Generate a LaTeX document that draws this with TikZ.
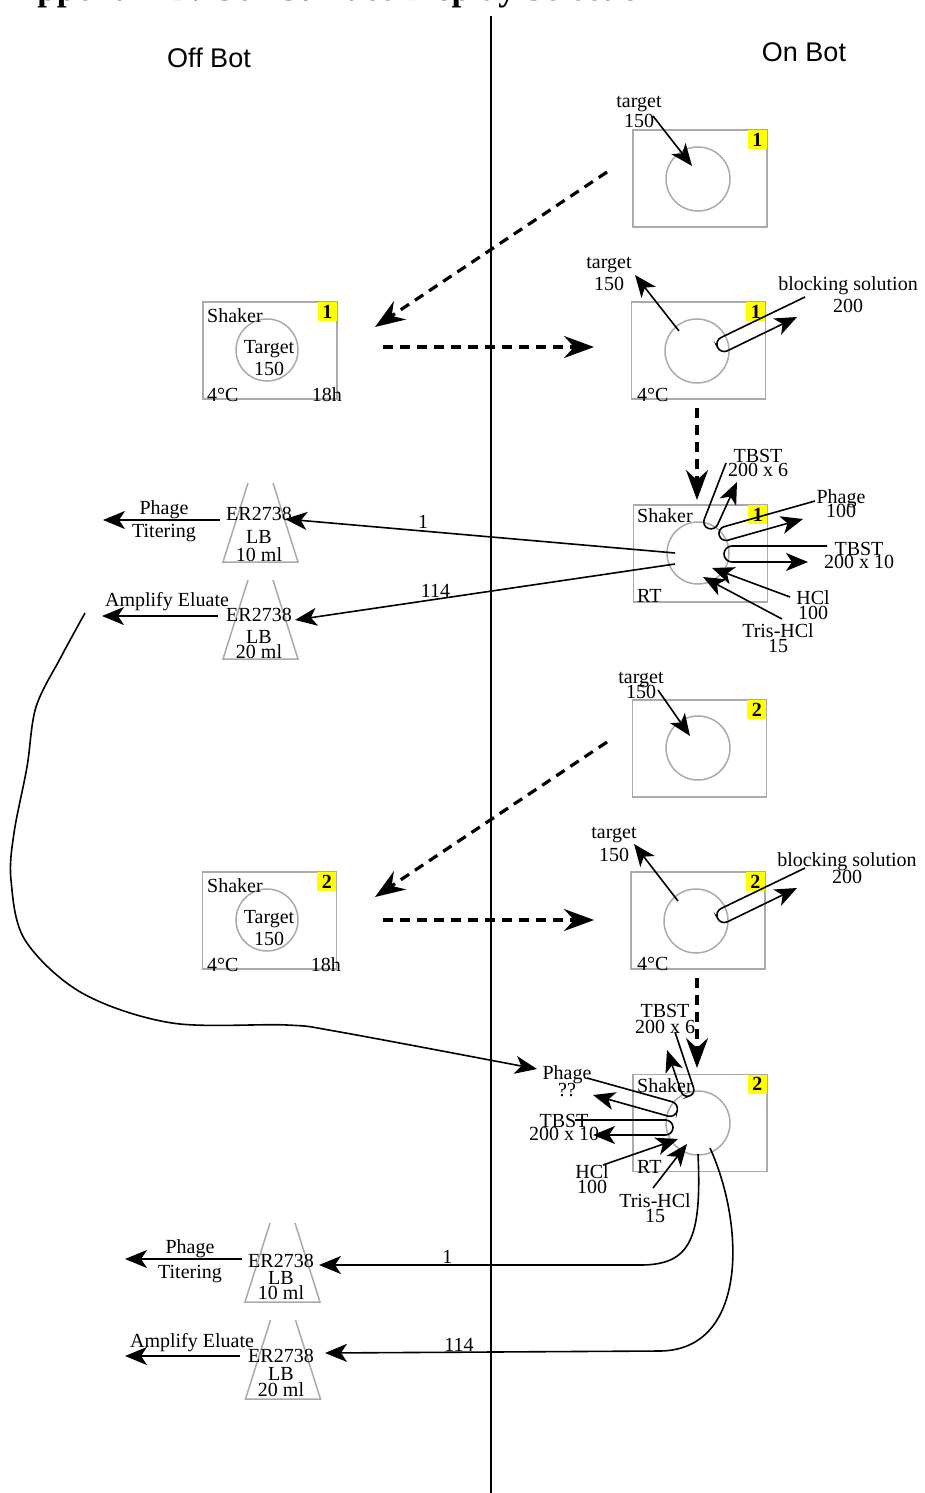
\documentclass[tikz,border=0pt]{standalone}
\usepackage{fontspec}
\setmainfont{Liberation Serif}
\newfontfamily\botfont{Liberation Sans}
\usetikzlibrary{arrows.meta}
\definecolor{plategray}{RGB}{170,170,170}
\definecolor{badgeyellow}{RGB}{255,255,0}
\newcommand\lblfont{\fontsize{20}{20}\selectfont}
\newcommand\flaskline[2]{\draw[flask] (#1-12.5,#2) -- (#1-37.5,#2+79) -- (#1+37.5,#2+79) -- (#1+12.5,#2);}
\begin{document}
\begin{tikzpicture}[x=1pt,y=-1pt,
  lbl/.style={font=\lblfont, align=center, inner sep=0pt},
  botlbl/.style={font=\botfont\fontsize{27}{27}\selectfont, anchor=base, inner sep=0pt},
  plate/.style={draw=plategray, line width=1.5pt, minimum width=134pt, minimum height=97pt, inner sep=0pt},
  well/.style={circle, draw=plategray, line width=1.5pt, minimum size=63pt, inner sep=0pt},
  badge/.style={fill=badgeyellow, minimum size=19pt, inner sep=0pt, font=\lblfont\bfseries, anchor=north east, xshift=-0.8pt, yshift=-0.8pt},
  arr/.style={line width=1.6pt, -{Stealth[length=22pt,width=18pt,inset=6pt]}},
  dasharr/.style={line width=3.2pt, dash pattern=on 10pt off 7pt, -{Stealth[length=30pt,width=22pt,inset=10pt]}},
  flask/.style={draw=plategray, line width=1.5pt}]
\useasboundingbox (0,0) rectangle (924,1493);
\begin{scope}
\clip (0,0) rectangle (924,1493);
\node[anchor=base west, inner sep=0pt, font=\fontsize{35}{35}\selectfont\bfseries] (title) at (12,1) {Appendix B: Cell Surface Display Selection};
\end{scope}

\node[botlbl] (offbot) at (209,68) {Off Bot};
\node[botlbl] (onbot) at (804,62) {On Bot};
\coordinate (divtop) at (491,16);
\coordinate (divbot) at (491,1493);
\draw[line width=1.5pt] (divtop) -- (divbot);

\node[plate] (pA) at (700,178.5) {};
\node[well, minimum size=64pt] (wA) at (698,179) {};
\node[badge] at (pA.north east) {1};
\node[lbl, anchor=base] (tgtA) at (639,128) {target\\150};

\node[plate] (sA) at (270,350.5) {};
\node[well, minimum size=62pt] (swA) at (267,350) {};
\node[badge] at (sA.north east) {1};
\node[lbl, anchor=base west] at (207,322) {Shaker};
\node[lbl, anchor=base] at (269,375) {Target\\[2pt]150};
\node[lbl, anchor=base west] at (207,401) {4°C};
\node[lbl, anchor=base east] at (342,401) {18h};

\node[plate] (pB) at (698.5,350.5) {};
\node[well, minimum size=64pt] (wB) at (697,351) {};
\node[badge] at (pB.north east) {1};
\node[lbl, anchor=base west] at (637,401) {4°C};
\node[lbl, anchor=base] (tgtB) at (609,290) {target\\[2pt]150};
\node[lbl, anchor=base] (blkB) at (848,312) {blocking solution\\[2pt]200};

\node[plate] (pC) at (700.5,553.5) {};
\node[well, minimum size=62pt] (wC) at (698,553) {};
\node[badge] at (pC.north east) {1};
\node[lbl, anchor=base west] at (637,522) {Shaker};
\node[lbl, anchor=base west] at (637,602) {RT};
\node[lbl, anchor=base] (tbA) at (758,476) {TBST\\[-6pt]200 x 6};
\node[lbl, anchor=base] (phA) at (841,517) {Phage\\[-6pt]100};
\node[lbl, anchor=base] (tbB) at (859,568) {TBST\\[-7pt]200 x 10};
\node[lbl, anchor=base] (hcA) at (813,619) {HCl\\[-5pt]100};
\node[lbl, anchor=base] (trA) at (778,652) {Tris-HCl\\[-5pt]15};

\flaskline{260.5}{483}
\node[lbl, anchor=base] (flA) at (259,561) {ER2738\\[3pt]LB\\[-2pt]10 ml};
\flaskline{260.5}{580}
\node[lbl, anchor=base] (flB) at (259,658) {ER2738\\[2pt]LB\\[-5pt]20 ml};
\node[lbl, anchor=base] (phtA) at (164,537) {Phage\\[3pt]Titering};
\node[lbl, anchor=base] (ampB) at (167,606) {Amplify Eluate};

\node[plate] (pD) at (699.5,748.5) {};
\node[well, minimum size=64pt] (wD) at (698,748) {};
\node[badge] at (pD.north east) {2};
\node[lbl, anchor=base] (tgtD) at (641,698) {target\\[-5pt]150};

\node[plate] (sB) at (269.5,920.5) {};
\node[well, minimum size=62pt] (swB) at (267,920) {};
\node[badge] at (sB.north east) {2};
\node[lbl, anchor=base west] at (207,892) {Shaker};
\node[lbl, anchor=base] at (269,945) {Target\\[2pt]150};
\node[lbl, anchor=base west] at (207,971) {4°C};
\node[lbl, anchor=base east] at (341,971) {18h};

\node[plate] (pE) at (698,920.5) {};
\node[well, minimum size=64pt] (wE) at (696,921) {};
\node[badge] at (pE.north east) {2};
\node[lbl, anchor=base west] at (637,970) {4°C};
\node[lbl, anchor=base] (tgtE) at (614,861) {target\\[3pt]150};
\node[lbl, anchor=base] (blkE) at (847,883) {blocking solution\\[-3pt]200};

\node[plate] (pF) at (700,1123) {};
\node[well, minimum size=64pt] (wF) at (698,1123) {};
\node[badge] at (pF.north east) {2};
\node[lbl, anchor=base west] at (637,1092) {Shaker};
\node[lbl, anchor=base west] at (637,1173) {RT};
\node[lbl, anchor=base] (tbF) at (665,1033) {TBST\\[-4pt]200 x 6};
\node[lbl, anchor=base] (phF) at (567,1096) {Phage\\[-3pt]??};
\node[lbl, anchor=base] (tbG) at (564,1140) {TBST\\[-7pt]200 x 10};
\node[lbl, anchor=base] (hcF) at (592,1193) {HCl\\[-5pt]100};
\node[lbl, anchor=base] (trF) at (655,1222) {Tris-HCl\\[-5pt]15};

\flaskline{282.5}{1223}
\node[lbl, anchor=base] (flC) at (281,1299) {ER2738\\[-3pt]LB\\[-5pt]10 ml};
\flaskline{283}{1320}
\node[lbl, anchor=base] (flD) at (281,1396) {ER2738\\[-2pt]LB\\[-4pt]20 ml};
\node[lbl, anchor=base] (phtC) at (190,1278) {Phage\\[5pt]Titering};
\node[lbl, anchor=base] (ampD) at (192,1347) {Amplify Eluate};

\draw[arr] (653,116) -- (692,166);
\draw[dasharr] (607,172) -- (375,327);
\draw[dasharr] (383,347) -- (594,347);
\draw[arr] (679,331) -- (635,275);
\draw[arr, rounded corners=7.4pt] (805,297) -- (714.4,340.7) -- (720.8,354) -- (797,317);
\draw[dasharr] (697,408) -- (697,500);
\draw[arr, rounded corners=7pt] (726,463) -- (701.7,525.9) -- (714.8,530.9) -- (737,482);
\draw[arr, rounded corners=7pt] (815,501) -- (717.3,528.6) -- (721.1,542.1) -- (803,519);
\draw[arr, rounded corners=8pt] (827,546) -- (724,546) -- (724,562) -- (808,562);
\draw[arr] (790,597) -- (712,568);
\draw[arr] (782,619) -- (703,577);
\draw[arr] (675,553) -- node[lbl, pos=0.646, above=2pt] {1} (285,519);
\draw[arr] (675,564) -- node[lbl, pos=0.63, above=1pt] {114} (295,620);
\draw[arr] (220,520) -- (103,520);
\draw[arr] (218,616) -- (102,616);

\draw[arr] (658,690) -- (690,736);
\draw[dasharr] (607,742) -- (375,897);
\draw[dasharr] (383,920) -- (594,920);
\draw[arr] (678,901) -- (634,844);
\draw[arr, rounded corners=7.4pt] (805,868) -- (714.4,911.7) -- (720.8,925) -- (797,888);
\draw[dasharr] (697,978) -- (697,1068);
\draw[arr, rounded corners=6.5pt] (675,1032) -- (695.6,1093.9) -- (683.3,1098) -- (667,1050);
\draw[arr, rounded corners=7.5pt] (587,1078) -- (679.2,1103.7) -- (675.2,1118.1) -- (593,1095);
\draw[arr, rounded corners=7.5pt] (575,1120) -- (673,1120) -- (673,1135) -- (593,1135);
\draw[arr] (603,1165) -- (678,1139);
\draw[arr] (653,1188) -- (687,1144);
\draw[arr] (698,1154) .. controls (702,1240) and (690,1265) .. (640,1265) -- node[lbl, pos=0.6, above=1pt] {1} (319,1265);
\draw[arr] (710,1148) .. controls (745,1225) and (748,1350) .. (660,1351) -- node[lbl, pos=0.6, above=0pt] {114} (325,1353);
\draw[arr] (242,1259) -- (125,1259);
\draw[arr] (240,1356) -- (125,1356);

\draw[arr] plot[smooth, tension=0.55] coordinates {(85,613) (61,657) (36,707) (27,767) (14,833) (11,880) (25,940) (82,993) (172,1023) (287,1025) (340,1032) (537,1069)};
\end{tikzpicture}
\end{document}
